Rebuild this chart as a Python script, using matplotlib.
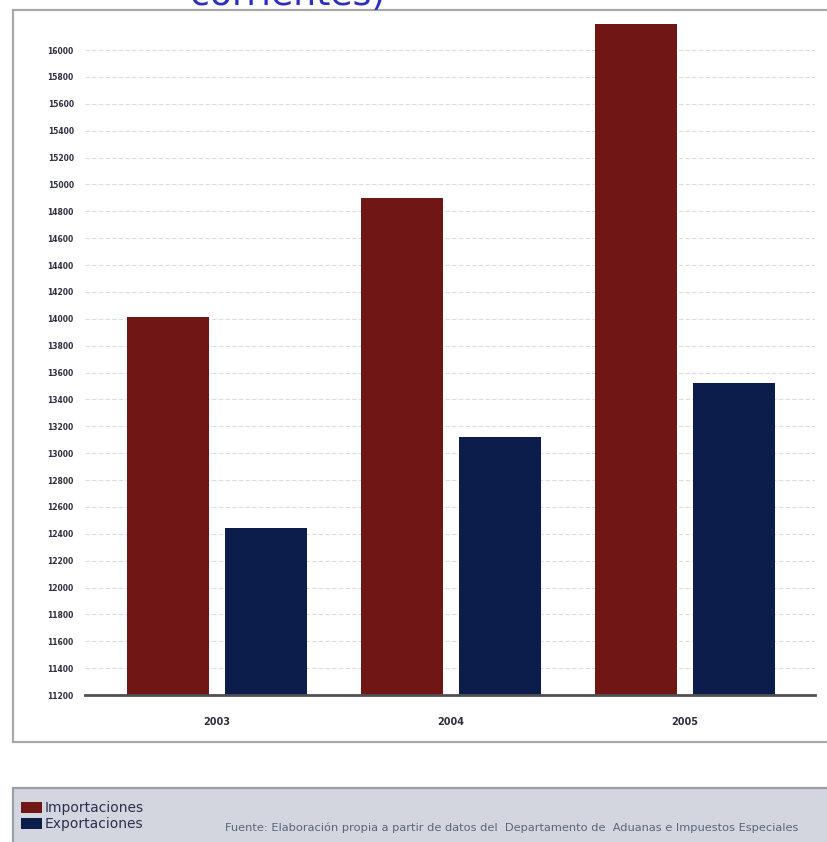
import matplotlib
matplotlib.use("Agg")
import matplotlib.pyplot as plt
from matplotlib.patches import Rectangle
import numpy as np

years = ["2003", "2004", "2005"]
importaciones = [14015, 14898, 16190]
exportaciones = [12442, 13120, 13520]
yticks = list(range(11200, 16001, 200))

c_imp = "#701614"
c_exp = "#0c1d4b"

W, H = 828, 842
fig = plt.figure(figsize=(W / 100, H / 100), dpi=100)
fig.patch.set_facecolor("white")

# outer chart box
fig.patches.append(Rectangle((13 / W, 1 - 742 / H), (W + 20 - 13) / W, (742 - 10) / H,
                             transform=fig.transFigure, facecolor="white",
                             edgecolor="#a8a8a8", linewidth=1.6, zorder=-2))
# legend box
fig.patches.append(Rectangle((13 / W, 1 - (H + 10) / H), (W + 20 - 13) / W, (H + 10 - 788) / H,
                             transform=fig.transFigure, facecolor="#d3d6df",
                             edgecolor="#9c9ea8", linewidth=1.6, zorder=-2))

ylo, yhi = 11200, 16250
px_per_unit = 645 / 4800
ax_h = (yhi - ylo) * px_per_unit
ax_left, ax_right, ax_bottom = 85, 815, 695
ax = fig.add_axes([ax_left / W, 1 - ax_bottom / H, (ax_right - ax_left) / W, ax_h / H])
ax.set_facecolor("none")
ax.set_zorder(2)

x = np.arange(len(years))
off = 0.209
bw = 0.35
b1 = ax.bar(x - off, importaciones, width=bw, color=c_imp, zorder=3, label="Importaciones")
b2 = ax.bar(x + off, exportaciones, width=bw, color=c_exp, zorder=3, label="Exportaciones")

ax.set_ylim(ylo, yhi)
ax.set_xlim(-0.565, 2.557)
ax.set_yticks(yticks)
ax.set_yticklabels([str(t) for t in yticks], fontsize=5.5, fontweight="bold", color="#2e3040")
ax.set_xticks(x)
ax.set_xticklabels(years, fontsize=7, fontweight="bold", color="#2e3040")
ax.tick_params(axis="y", length=0, pad=8)
ax.tick_params(axis="x", length=0, pad=16)
ax.grid(axis="y", color="#dcdcdc", linestyle=(0, (4, 2)), linewidth=0.8, zorder=0)
for s in ["top", "right", "left"]:
    ax.spines[s].set_visible(False)
ax.spines["bottom"].set_color("#505050")
ax.spines["bottom"].set_linewidth(2)
ax.spines["bottom"].set_zorder(4)

# legend
leg = fig.legend(handles=[b1, b2], labels=["Importaciones", "Exportaciones"],
                 loc="upper left", bbox_to_anchor=(13 / W, 1 - 793 / H),
                 frameon=False, fontsize=10, handlelength=1.5, handleheight=0.9,
                 handletextpad=0.15, labelspacing=0.15, borderpad=0.1,
                 labelcolor="#2a3050")
leg.set_zorder(3)

fig.text(225 / W, 1 - 828 / H,
         "Fuente: Elaboración propia a partir de datos del  Departamento de  Aduanas e Impuestos Especiales",
         fontsize=8.2, color="#5a6478", va="center", ha="left", zorder=3)

# cut-off title at top
fig.text(385 / W, 1 - 5 / H, "corrientes)", fontsize=26, color="#2a2fc0",
         ha="right", va="baseline", zorder=3)

fig.savefig("out.png", dpi=100)
